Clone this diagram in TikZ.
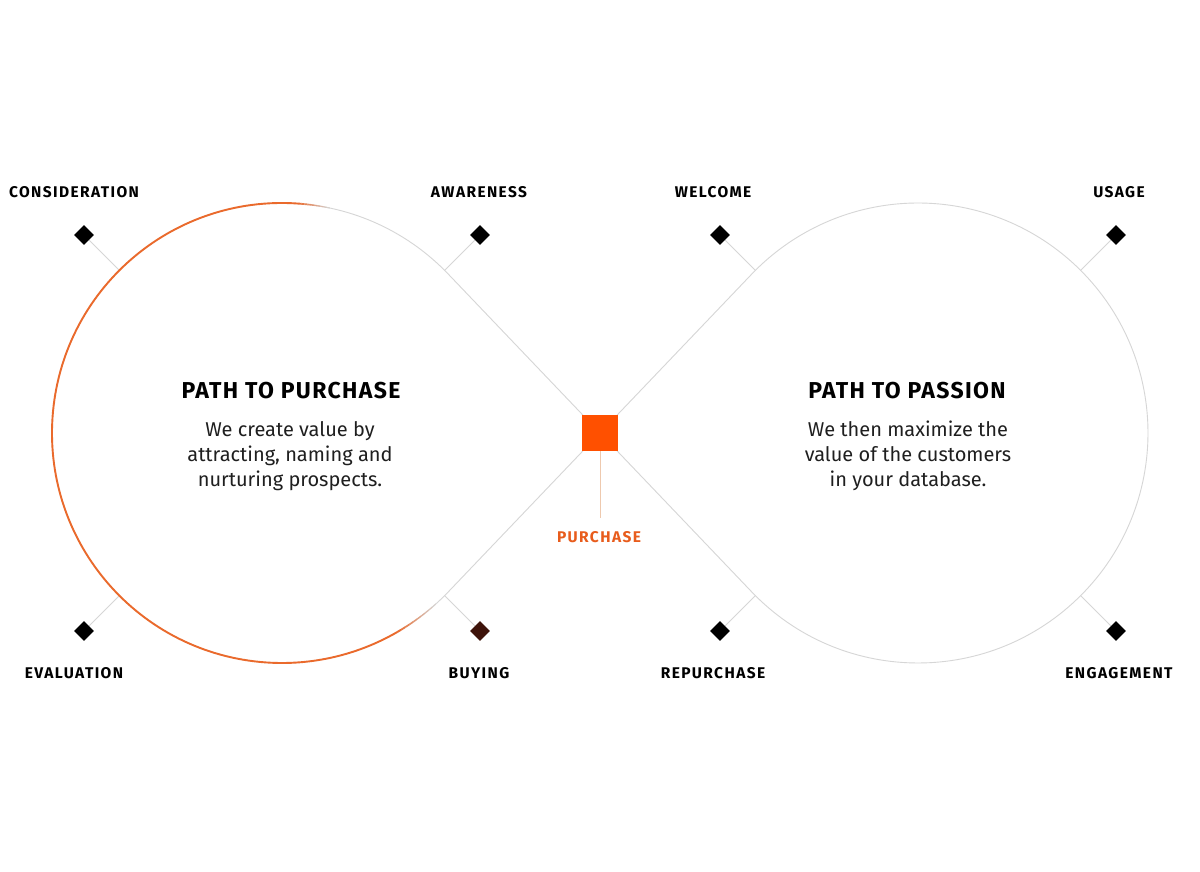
\documentclass[tikz,border=0pt]{standalone}
\usepackage{fontspec}
\usetikzlibrary{calc,backgrounds}
\setmainfont{Fira Sans}
\newfontfamily\lblfont[LetterSpace=9]{Fira Sans}
\newfontfamily\ttlfont[LetterSpace=6]{Fira Sans}
\definecolor{ringgrey}{HTML}{D6D6D6}
\definecolor{ringorange}{HTML}{EA6A2C}
\definecolor{sqorange}{HTML}{FF5000}
\definecolor{txtorange}{HTML}{E85C1C}
\definecolor{stemtan}{HTML}{EEC9AE}
\definecolor{buybrown}{HTML}{3E130A}
\begin{document}
\begin{tikzpicture}[x=1pt,y=1pt,
  ring/.style={draw=ringgrey,line width=0.9pt},
  tick/.style={draw=ringgrey,line width=0.8pt},
  dmd/.style={fill=black,rotate=45,minimum size=14pt,inner sep=0pt,draw=none},
  lbl/.style={font=\lblfont\bfseries\fontsize{15.5}{18}\selectfont,text=black,inner sep=0pt},
  ttl/.style={font=\ttlfont\bfseries\fontsize{23}{27}\selectfont,text=black,inner sep=0pt},
  body/.style={font=\fontsize{20}{25}\selectfont,align=center,text=black!88,inner sep=0pt}]
\useasboundingbox (0,0) rectangle (1200,871);
% centers
\coordinate (L) at (282,438);
\coordinate (R) at (918,438);
\coordinate (C) at (600,438);
% infinity ring
\draw[ring] (C) -- ($(L)+(43.7:230)$) arc[start angle=43.7,end angle=316.3,radius=230]
  -- (C) -- ($(R)+(223.7:230)$) arc[start angle=223.7,end angle=496.3,radius=230] -- cycle;
% orange arc with faded ends
\draw[ringorange,line width=1.9pt] ($(L)+(86:230)$) arc[start angle=86,end angle=300,radius=230];
\foreach \i in {0,...,9}{
  \pgfmathsetmacro{\pc}{95-10*\i}
  \pgfmathsetmacro{\lw}{1.9-0.1*\i}
  \pgfmathsetmacro{\sa}{86-0.8*\i}
  \pgfmathsetmacro{\ea}{86-0.8*(\i+1)}
  \pgfmathsetmacro{\sb}{300+1.2*\i}
  \pgfmathsetmacro{\eb}{300+1.2*(\i+1)}
  \draw[ringorange!\pc!ringgrey,line width=\lw pt]
    ($(L)+(\sa:230)$) arc[start angle=\sa,end angle=\ea,radius=230];
  \draw[ringorange!\pc!ringgrey,line width=\lw pt]
    ($(L)+(\sb:230)$) arc[start angle=\sb,end angle=\eb,radius=230];
}
% attachment points
\coordinate (aCon) at ($(L)+(135:230)$);
\coordinate (aAwa) at ($(L)+(45:230)$);
\coordinate (aEva) at ($(L)+(225:230)$);
\coordinate (aBuy) at ($(L)+(-45:230)$);
\coordinate (aWel) at ($(R)+(135:230)$);
\coordinate (aUsa) at ($(R)+(45:230)$);
\coordinate (aRep) at ($(R)+(225:230)$);
\coordinate (aEng) at ($(R)+(-45:230)$);
% diamonds
\node[dmd] (dCon) at (84,636) {};
\node[dmd] (dAwa) at (480,636) {};
\node[dmd] (dEva) at (84,240) {};
\node[dmd,fill=buybrown] (dBuy) at (480,240) {};
\node[dmd] (dWel) at (720,636) {};
\node[dmd] (dUsa) at (1116,636) {};
\node[dmd] (dRep) at (720,240) {};
\node[dmd] (dEng) at (1116,240) {};
\begin{pgfonlayer}{background}
\fill[white] (0,0) rectangle (1200,871);
\foreach \a/\d in {aCon/dCon,aAwa/dAwa,aEva/dEva,aBuy/dBuy,aWel/dWel,aUsa/dUsa,aRep/dRep,aEng/dEng}
  \draw[tick] (\a) -- (\d.center);
\end{pgfonlayer}
% labels
\node[lbl] (tCon) at (74,679) {CONSIDERATION};
\node[lbl] (tAwa) at (479,679) {AWARENESS};
\node[lbl] (tWel) at (713,679) {WELCOME};
\node[lbl] (tUsa) at (1119,679) {USAGE};
\node[lbl] (tEva) at (74,198) {EVALUATION};
\node[lbl] (tBuy) at (479,198) {BUYING};
\node[lbl] (tRep) at (713,198) {REPURCHASE};
\node[lbl] (tEng) at (1119,198) {ENGAGEMENT};
% center square
\node[fill=sqorange,minimum size=36pt,inner sep=0pt] (sq) at (C) {};
\coordinate (stemEnd) at (600,353);
\draw[stemtan,line width=0.9pt] (sq.south) -- (stemEnd);
\node[lbl,text=txtorange] (tPur) at (599,334) {PURCHASE};
% titles and bodies
\node[ttl] (hL) at (291,480) {PATH TO PURCHASE};
\node[ttl] (hR) at (907,480) {PATH TO PASSION};
\node[body] (bL) at (290,415) {We create value by\\attracting, naming and\\nurturing prospects.};
\node[body] (bR) at (908,415) {We then maximize the\\value of the customers\\in your database.};
\end{tikzpicture}
\end{document}
